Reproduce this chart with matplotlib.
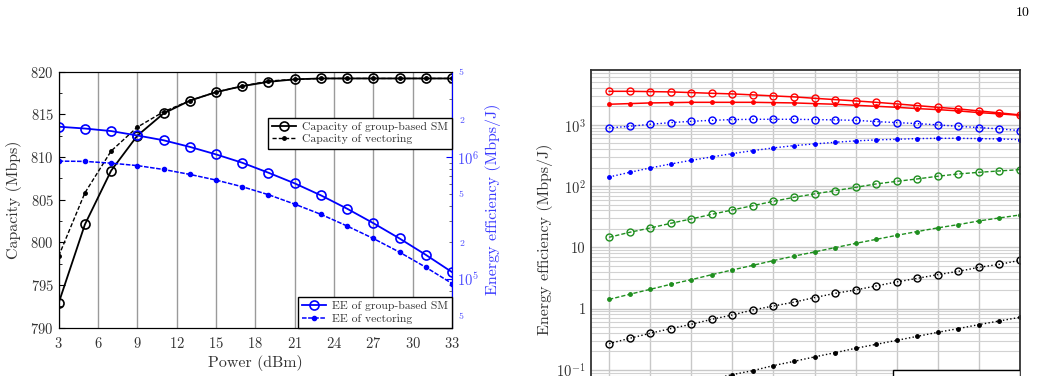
import numpy as np
import matplotlib
matplotlib.use("Agg")
import matplotlib.pyplot as plt
from matplotlib.ticker import FixedLocator, FuncFormatter, LogLocator, NullFormatter
from matplotlib.patches import Rectangle

plt.rcParams["font.family"] = ["cmr10", "DejaVu Serif"]
plt.rcParams["mathtext.fontset"] = "cm"
plt.rcParams["axes.formatter.use_mathtext"] = True

TXT = "#333333"

# ---- left chart: capacity / energy efficiency vs power ----
power = [3, 5, 7, 9, 11, 13, 15, 17, 19, 21, 23, 25, 27, 29, 31, 33]
cap_sm = [792.9, 802.1, 808.4, 812.5, 815.1, 816.6, 817.6, 818.3, 818.8, 819.1,
          819.2, 819.2, 819.2, 819.2, 819.2, 819.2]
cap_vec = [798.4, 805.8, 810.7, 813.5, 815.3, 816.6, 817.6, 818.3, 818.9, 819.1,
           819.2, 819.2, 819.2, 819.2, 819.2, 819.2]
ee_sm = [1.77e6, 1.71e6, 1.63e6, 1.50e6, 1.37e6, 1.21e6, 1.05e6, 8.97e5, 7.43e5,
         6.08e5, 4.85e5, 3.77e5, 2.87e5, 2.15e5, 1.58e5, 1.14e5]
ee_vec = [9.25e5, 9.2e5, 8.9e5, 8.5e5, 7.9e5, 7.2e5, 6.47e5, 5.71e5, 4.91e5,
          4.11e5, 3.39e5, 2.72e5, 2.15e5, 1.66e5, 1.25e5, 9.2e4]
power_ticks = [3, 6, 9, 12, 15, 18, 21, 24, 27, 30, 33]

# ---- right chart: energy efficiency (log), bottom part cut off ----
idx = list(range(21))
red_circ = [3540, 3540, 3500, 3460, 3375, 3285, 3210, 3093, 2978, 2870, 2723,
            2590, 2466, 2339, 2203, 2066, 1939, 1826, 1693, 1571, 1457]
red_dot = [2175, 2229, 2287, 2312, 2339, 2339, 2339, 2339, 2312, 2287, 2229,
           2175, 2090, 2014, 1939, 1847, 1778, 1693, 1589, 1514, 1437]
blue_circ = [893, 949, 1023, 1091, 1145, 1189, 1221, 1235, 1235, 1235, 1221,
             1207, 1189, 1132, 1091, 1050, 1000, 949, 904, 861, 807]
blue_dot = [141, 168, 198, 230, 264, 300, 340, 380, 421, 459, 489, 520, 548,
            569, 582, 598, 604, 604, 598, 590, 575]
green_circ = [14.6, 17.6, 20.7, 24.7, 29.1, 34.6, 40.8, 48.0, 56.5, 65.6, 74.6,
              84.4, 95.5, 108.6, 119.7, 131, 145, 158, 168, 177, 186]
green_dot = [1.41, 1.71, 2.06, 2.49, 2.96, 3.58, 4.27, 5.08, 6.07, 7.18, 8.41,
             9.89, 11.6, 13.5, 15.7, 18.1, 20.8, 23.5, 27.0, 30.2, 33.8]
black_circ = [0.267, 0.326, 0.394, 0.470, 0.552, 0.667, 0.786, 0.948, 1.10, 1.27,
              1.51, 1.77, 2.01, 2.34, 2.72, 3.11, 3.58, 4.05, 4.71, 5.27, 6.13]
black_dot = [0.030, 0.0357, 0.0422, 0.050, 0.0593, 0.0702, 0.0832, 0.0967, 0.117,
             0.137, 0.162, 0.190, 0.224, 0.260, 0.302, 0.351, 0.409, 0.470, 0.546,
             0.627, 0.718]

fig = plt.figure(figsize=(10.37, 3.76), dpi=100)
fig.text(0.993, 0.965, "10", ha="right", va="center", fontsize=10, color="black")

# left chart
ax = fig.add_axes([0.0566, 0.1285, 0.3793, 0.681])
ax.plot(power, cap_sm, color="black", lw=1.3, marker="o", ms=6.5, mfc="none",
        mew=1.2, label="Capacity of group-based SM")
ax.plot(power, cap_vec, color="black", lw=1.0, ls=(0, (3, 1.5)), marker="o", ms=2.5,
        label="Capacity of vectoring")
ax.set_xlim(3, 33)
ax.set_ylim(790, 820)
ax.set_xticks(power_ticks)
ax.set_yticks([790, 795, 800, 805, 810, 815, 820])
ax.yaxis.set_minor_locator(FixedLocator(np.arange(792.5, 820, 5)))
ax.grid(axis="x", color="#9a9a9a", lw=1.0)
ax.tick_params(direction="in", labelsize=10.5, labelcolor=TXT, length=4)
ax.tick_params(which="minor", direction="in", length=2.5)
ax.tick_params(axis="x", length=0, pad=6)
ax.set_xlabel("Power (dBm)", fontsize=11.5, color=TXT, labelpad=3)
ax.set_ylabel("Capacity (Mbps)", fontsize=11.5, color=TXT)
ax.yaxis.set_label_coords(-0.093, 0.5)

ax2 = ax.twinx()
ax2.plot(power, ee_sm, color="blue", lw=1.3, marker="o", ms=6.5, mfc="none",
         mew=1.2, label="EE of group-based SM")
ax2.plot(power, ee_vec, color="blue", lw=1.1, ls=(0, (3, 1)), marker="o", ms=3,
         label="EE of vectoring")
ax2.set_yscale("log")
ax2.set_ylim(4e4, 5e6)
ax2.yaxis.set_major_locator(FixedLocator([1e5, 1e6]))
ax2.yaxis.set_major_formatter(FuncFormatter(lambda v, p: "$10^{%d}$" % round(np.log10(v))))
ax2.yaxis.set_minor_locator(LogLocator(base=10, subs=np.arange(2, 10)))


def minor_lab(v, p):
    m = v / 10 ** np.floor(np.log10(v) + 1e-9)
    if abs(m - 2) < 0.01 or abs(m - 5) < 0.01:
        return "%d" % round(m)
    return ""


ax2.yaxis.set_minor_formatter(FuncFormatter(minor_lab))
ax2.tick_params(which="major", direction="in", length=4, colors="blue",
                labelcolor="#4a4aff", labelsize=10.5)
ax2.tick_params(which="minor", direction="in", length=2.5, colors="#555555",
                labelcolor="#4a4aff", labelsize=7, pad=5)
ax2.spines["right"].set_color("blue")
ax2.set_ylabel("Energy efficiency (Mbps/J)", fontsize=11.5, color="#3b3bff")
ax2.yaxis.set_label_coords(1.084, 0.5)

h1, l1 = ax.get_legend_handles_labels()
h2, l2 = ax2.get_legend_handles_labels()
leg_kw = dict(fancybox=False, edgecolor="black", framealpha=1, fontsize=8.4,
              borderpad=0.35, labelspacing=0.2, handlelength=2.1,
              handletextpad=0.5, borderaxespad=0)
leg1 = ax2.legend(h1, l1, loc="upper right", bbox_to_anchor=(1.0, 0.82), **leg_kw)
ax2.add_artist(leg1)
leg2 = ax2.legend(h2, l2, loc="lower right", bbox_to_anchor=(1.0, 0.0), **leg_kw)
for lg in (leg1, leg2):
    lg.get_frame().set_linewidth(1.0)
    for t in lg.get_texts():
        t.set_color(TXT)

# right chart (extends below the page crop)
bx = fig.add_axes([0.5696, -0.0891, 0.414, 0.9029])
bx.plot(idx, red_circ, color="red", lw=1.1, marker="o", ms=5, mfc="none", mew=1.0)
bx.plot(idx, red_dot, color="red", lw=1.1, marker="o", ms=2.5)
bx.plot(idx, blue_circ, color="blue", lw=1.0, ls=":", marker="o", ms=5, mfc="none", mew=1.0)
bx.plot(idx, blue_dot, color="blue", lw=1.0, ls=":", marker="o", ms=2.5)
bx.plot(idx, green_circ, color="#1f8f1f", lw=1.0, ls=(0, (3, 1.5)), marker="o", ms=5,
        mfc="none", mew=1.0)
bx.plot(idx, green_dot, color="#1f8f1f", lw=1.0, ls=(0, (3, 1.5)), marker="o", ms=2.5)
bx.plot(idx, black_circ, color="black", lw=1.0, ls=":", marker="o", ms=5, mfc="none", mew=1.0)
bx.plot(idx, black_dot, color="black", lw=1.0, ls=":", marker="o", ms=2.5)
bx.set_yscale("log")
bx.set_ylim(10 ** -1.65, 10 ** 3.897)
bx.set_xlim(-0.9, 20)
bx.set_xticks(range(0, 21, 2))
bx.set_xticklabels([])
bx.yaxis.set_major_locator(FixedLocator([0.1, 1, 10, 100, 1000]))
ylab = {0.1: "$10^{-1}$", 1: "1", 10: "10", 100: "$10^2$", 1000: "$10^3$"}
bx.yaxis.set_major_formatter(FuncFormatter(lambda v, p: ylab.get(round(v, 3), "")))
bx.yaxis.set_minor_locator(LogLocator(base=10, subs=np.arange(2, 10)))
bx.yaxis.set_minor_formatter(NullFormatter())
bx.grid(which="major", color="#c8c8c8", lw=1.0)
bx.grid(which="minor", axis="y", color="#d2d2d2", lw=0.8)
bx.tick_params(which="both", direction="in", length=0, labelsize=10.5, labelcolor=TXT)
for s in bx.spines.values():
    s.set_color("#333333")
    s.set_linewidth(1.3)
bx.set_ylabel("Energy efficiency (Mbps/J)", fontsize=11.5, color=TXT)
bx.yaxis.set_label_coords(-0.088, 0.5)
bx.add_patch(Rectangle((0.705, 0.0), 0.295, 0.115, transform=bx.transAxes,
                       facecolor="white", edgecolor="black", lw=1.0, zorder=5))

fig.savefig("out.png", dpi=100)
